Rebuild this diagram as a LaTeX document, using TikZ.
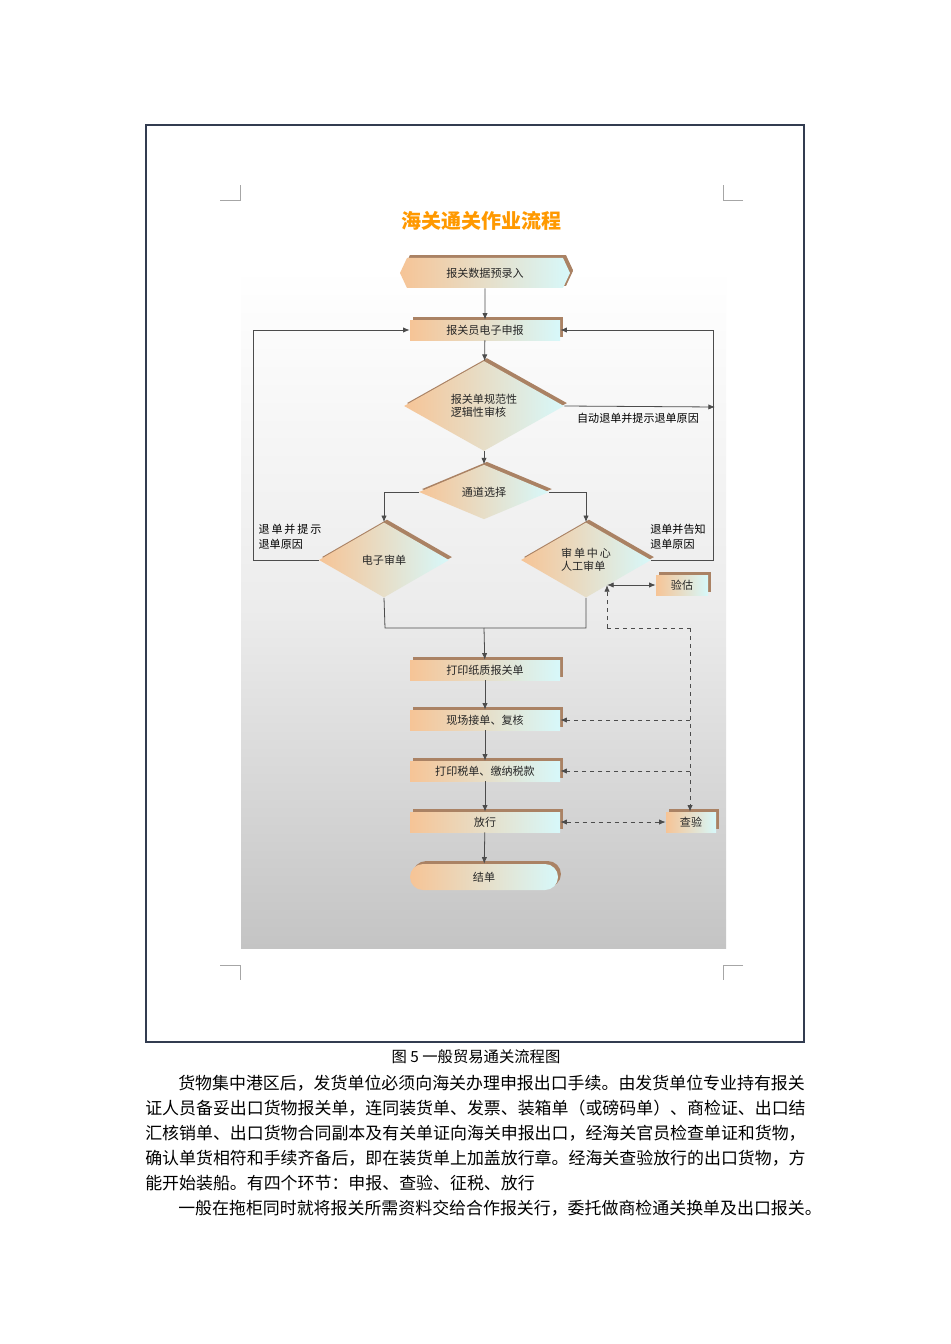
\documentclass[tikz,border=0pt]{standalone}
\usepackage{fontspec}
\setmainfont{Noto Sans CJK SC}
\newfontfamily\cjk{Noto Sans CJK SC}
\usetikzlibrary{shapes.geometric,shapes.misc,shapes.symbols,shadows,arrows.meta}
\newdimen\pxu \pxu=0.75pt
\definecolor{peach}{RGB}{246,196,150}
\definecolor{icecyan}{RGB}{215,248,250}
\definecolor{shade}{RGB}{170,130,100}
\definecolor{framec}{RGB}{50,60,80}
\tikzset{
  fl/.style={font=\fontsize{8.3pt}{10pt}\selectfont, text=black!85, inner sep=0pt,
    left color=peach, right color=icecyan, draw=none,
    general shadow={fill=shade, shadow xshift=2.2pt, shadow yshift=2.2pt}},
  boxn/.style={fl, rectangle, minimum width=150\pxu, minimum height=20\pxu},
  dia/.style={fl, diamond, align=left},
  arr/.style={-{Latex[length=5pt,width=4pt]}, draw=black!70, line width=0.6pt},
  ln/.style={draw=black!70, line width=0.6pt},
  dsh/.style={draw=black!70, line width=0.6pt, dashed},
  lab/.style={font=\fontsize{8.3pt}{11pt}\selectfont, align=left, inner sep=0pt},
  para/.style={font=\fontsize{12.7pt}{14pt}\selectfont, anchor=west, inner sep=0pt}
}
\begin{document}
\begin{tikzpicture}[x=0.75pt,y=-0.75pt]
\useasboundingbox (0,0) rectangle (950,1344);
\fill[white] (0,0) rectangle (950,1344);
% frame
\draw[framec, line width=1.4pt] (146,125) rectangle (804,1042);
% corner marks
\draw[gray!70, line width=0.6pt] (220,200)--(240,200)--(240,185);
\draw[gray!70, line width=0.6pt] (743,200)--(723,200)--(723,185);
\draw[gray!70, line width=0.6pt] (220,965)--(240,965)--(240,980);
\draw[gray!70, line width=0.6pt] (743,965)--(723,965)--(723,980);
% panel
\shade[top color=white, bottom color={rgb,255:red,196;green,196;blue,196}, middle color={rgb,255:red,236;green,236;blue,236}] (241,268) rectangle (726,948);
% title
\node (title) at (481,221) {\fontsize{15pt}{16pt}\selectfont\bfseries\color{orange!80!yellow}\slshape 海关通关作业流程};
% nodes
\node[fl, signal, signal to=west and east, signal pointer angle=130, minimum width=170\pxu, minimum height=30\pxu, general shadow={fill=shade, shadow xshift=2.2pt, shadow yshift=1.5pt}] (n0) at (485,273) {报关数据预录入};
\node[boxn] (n1) at (485,330) {报关员电子申报};
\node[dia, minimum width=160\pxu, minimum height=72\pxu] (n2) at (484,406) {报关单规范性\\逻辑性审核};
\node[dia, minimum width=130\pxu, minimum height=36\pxu] (n3) at (484,492) {通道选择};
\node[dia, minimum width=130\pxu, minimum height=75\pxu] (n4) at (384,560) {电子审单};
\node[dia, minimum width=130\pxu, minimum height=75\pxu] (n5) at (586,560) {审\,单\,中\,心\\人工审单};
\node[fl, rectangle, minimum width=52\pxu, minimum height=20\pxu] (yg) at (682,585) {验估};
\node[boxn] (p1) at (485,670) {打印纸质报关单};
\node[boxn] (p2) at (485,720) {现场接单、复核};
\node[boxn] (p3) at (485,771) {打印税单、缴纳税款};
\node[boxn] (p4) at (485,822) {放行};
\node[fl, rectangle, minimum width=50\pxu, minimum height=20\pxu] (cy) at (691,822) {查验};
\node[fl, rounded rectangle, minimum width=148\pxu, minimum height=26\pxu] (p5) at (484,877) {结单};
% coordinates
\coordinate (rA) at (715,407);
\coordinate (rR) at (713,560);
\coordinate (rT) at (713,330);
\coordinate (lL) at (253,560);
\coordinate (lT) at (253,330);
\coordinate (jL) at (385,628);
\coordinate (jR) at (586,628);
\coordinate (jM) at (484,628);
\coordinate (dA) at (607,585);
\coordinate (dB) at (607,628);
\coordinate (dC) at (690,628);
\coordinate (dD) at (690,720);
\coordinate (dE) at (690,771);
% connectors
\draw[arr] (n0) -- (n1);
\draw[arr] (n1) -- (n2);
\draw[arr] (n2.east) -- (rA);
\draw[arr] (n5.east) -- (rR) -- (rT) -- (n1.east);
\draw[arr] (n4.west) -- (lL) -- (lT) -- (n1.west);
\draw[arr] (n2) -- (n3);
\draw[arr] (n3.west) -| (n4.north);
\draw[arr] (n3.east) -| (n5.north);
\draw[ln] (n4.south) -- (jL) -- (jR) -- (n5.south);
\draw[arr] (jM) -- (p1);
\draw[arr] (p1) -- (p2);
\draw[arr] (p2) -- (p3);
\draw[arr] (p3) -- (p4);
\draw[arr] (p4) -- (p5);
\draw[{Latex[length=5pt,width=4pt]}-{Latex[length=5pt,width=4pt]}, draw=black!70, line width=0.6pt] (dA) -- (yg.west);
\draw[dsh, -{Latex[length=5pt,width=4pt]}] (dB) -- (dA);
\draw[dsh] (dB) -- (dC);
\draw[dsh, -{Latex[length=5pt,width=4pt]}] (dC) -- (cy.north -| dC);
\draw[dsh, -{Latex[length=5pt,width=4pt]}] (dD) -- (p2.east);
\draw[dsh, -{Latex[length=5pt,width=4pt]}] (dE) -- (p3.east);
\draw[dsh, {Latex[length=5pt,width=4pt]}-{Latex[length=5pt,width=4pt]}] (p4.east) -- (cy.west);
% labels
\node[lab] (l1) at (638,418) {自动退单并提示退单原因};
\node[lab] (l2) at (290,537) {退\,单\,并\,提\,示\\退单原因};
\node[lab] (l3) at (678,537) {退单并告知\\退单原因};
% caption and text
\node (cap) at (476,1057) {\fontsize{11.5pt}{13pt}\selectfont 图 5 一般贸易通关流程图};
\node[para] (t1) at (178,1083) {货物集中港区后，发货单位必须向海关办理申报出口手续。由发货单位专业持有报关};
\node[para] (t2) at (145,1108) {证人员备妥出口货物报关单，连同装货单、发票、装箱单（或磅码单）、商检证、出口结};
\node[para] (t3) at (145,1133) {汇核销单、出口货物合同副本及有关单证向海关申报出口，经海关官员检查单证和货物，};
\node[para] (t4) at (145,1158) {确认单货相符和手续齐备后，即在装货单上加盖放行章。经海关查验放行的出口货物，方};
\node[para] (t5) at (145,1183) {能开始装船。有四个环节：申报、查验、征税、放行};
\node[para] (t6) at (178,1208) {一般在拖柜同时就将报关所需资料交给合作报关行，委托做商检通关换单及出口报关。};
\end{tikzpicture}
\end{document}
